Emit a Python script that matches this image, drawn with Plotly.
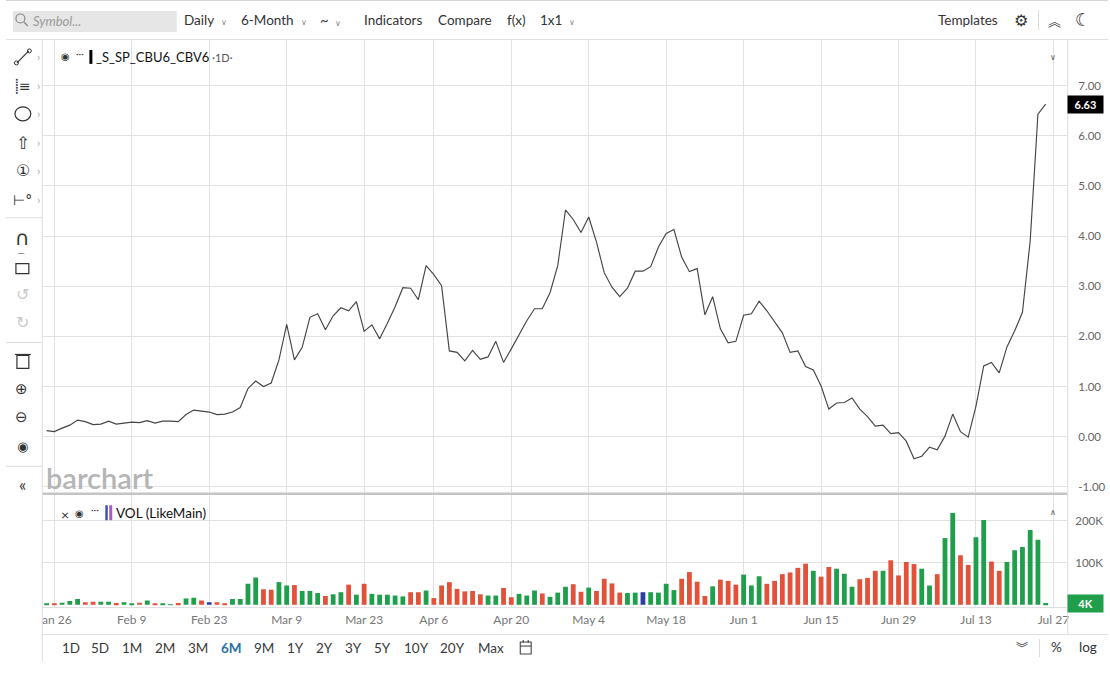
import pandas as pd
import plotly.graph_objects as go

W, H = 1110, 675

# spread close, one value per trading day (Jan 23 .. Jul 24 2026)
prices = [
    0.12, 0.10, 0.17, 0.23, 0.33, 0.30, 0.24, 0.25, 0.31, 0.25,
    0.27, 0.29, 0.28, 0.32, 0.27, 0.31, 0.31, 0.30, 0.44, 0.53,
    0.51, 0.49, 0.44, 0.45, 0.49, 0.58, 0.96, 1.11, 1.00, 1.07,
    1.53, 2.24, 1.53, 1.78, 2.38, 2.45, 2.13, 2.41, 2.57, 2.51,
    2.69, 2.10, 2.23, 1.95, 2.26, 2.59, 2.97, 2.96, 2.73, 3.41,
    3.23, 3.01, 1.71, 1.68, 1.51, 1.72, 1.54, 1.59, 1.90, 1.48,
    1.75, 2.03, 2.31, 2.55, 2.55, 2.87, 3.41, 4.52, 4.33, 4.07,
    4.38, 3.88, 3.27, 2.98, 2.79, 2.96, 3.30, 3.30, 3.39, 3.78,
    4.05, 4.13, 3.58, 3.29, 3.35, 2.43, 2.79, 2.15, 1.87, 1.90,
    2.42, 2.45, 2.70, 2.51, 2.28, 2.07, 1.68, 1.71, 1.40, 1.33,
    1.01, 0.55, 0.67, 0.68, 0.77, 0.55, 0.40, 0.21, 0.23, 0.06,
    0.08, -0.09, -0.44, -0.39, -0.21, -0.26, 0.01, 0.45, 0.10, -0.01,
    0.61, 1.41, 1.48, 1.27, 1.79, 2.11, 2.48, 3.90, 6.43, 6.63,
]

# volume in thousands
volume_k = [
    2, 2, 5, 9, 14, 6, 7, 7, 7, 4,
    6, 2, 5, 10, 3, 3, 1, 4, 15, 17,
    10, 6, 6, 2, 14, 14, 50, 65, 37, 36,
    54, 46, 47, 33, 33, 28, 21, 25, 30, 48,
    24, 50, 26, 24, 24, 22, 20, 30, 30, 34,
    16, 46, 54, 38, 32, 33, 25, 22, 22, 40,
    18, 26, 22, 34, 27, 19, 29, 43, 49, 31,
    41, 33, 62, 51, 29, 28, 29, 30, 30, 29,
    50, 35, 62, 78, 55, 21, 44, 60, 57, 48,
    72, 46, 68, 50, 57, 73, 77, 88, 98, 81,
    67, 90, 86, 74, 43, 61, 64, 81, 81, 106,
    70, 102, 97, 86, 46, 73, 159, 219, 118, 95,
    161, 202, 103, 81, 102, 130, 138, 178, 155, 4,
]

# G = up day, R = down day, B = unchanged
vol_dir = list(
    "GRGGGRRGGR" "GGRGRGGRGG" "RBRRGGGGRR" "GGRGGGRGGR" "GRGGGGGRRG"
    "RRRRRRRGGR" "RGGGRGGGRR" "GRRRRGGBGG" "GGRRRRGRRR" "GGGRRRRRRG"
    "RRGGGRRRGR" "RRRGGRGGRR" "GGRRGGGGGG"
)

dates = pd.bdate_range("2026-01-23", "2026-07-24", freq="C", holidays=["2026-04-03"])

tick_dates = ["2026-01-26", "2026-02-09", "2026-02-23", "2026-03-09", "2026-03-23",
              "2026-04-06", "2026-04-20", "2026-05-04", "2026-05-18", "2026-06-01",
              "2026-06-15", "2026-06-29", "2026-07-13", "2026-07-27"]
tick_text = ["Jan 26", "Feb 9", "Feb 23", "Mar 9", "Mar 23", "Apr 6", "Apr 20",
             "May 4", "May 18", "Jun 1", "Jun 15", "Jun 29", "Jul 13", "Jul 27"]

price_ticks = [-1, 0, 1, 2, 3, 4, 5, 6, 7]
price_tick_text = ["%.2f" % v for v in price_ticks]
vol_ticks = [100000, 200000]
vol_tick_text = ["100K", "200K"]

ranges = ["1D", "5D", "1M", "2M", "3M", "6M", "9M", "1Y", "2Y", "3Y", "5Y", "10Y", "20Y", "Max"]
range_x = [65, 95, 127, 160, 193, 227, 260, 292, 321, 350, 379, 413, 450, 489]

GREEN, RED, BLUE = "#1f9e4b", "#e2523a", "#2c3fa2"
FONT = "Lato, 'Open Sans', sans-serif"
GRID = "#e2e2e2"


def px_x(p):
    return p / W


def px_y(p):
    return 1 - p / H


shapes = []
annos = []


def line(x0, y0, x1, y1, color="#dcdcdc", width=1):
    shapes.append(dict(type="line", xref="paper", yref="paper", x0=px_x(x0), y0=px_y(y0),
                       x1=px_x(x1), y1=px_y(y1), line=dict(color=color, width=width), layer="above"))


def rect(x0, y0, x1, y1, fill=None, color=None, width=1):
    shapes.append(dict(type="rect", xref="paper", yref="paper", x0=px_x(x0), y0=px_y(y0),
                       x1=px_x(x1), y1=px_y(y1), fillcolor=fill or "rgba(0,0,0,0)",
                       line=dict(color=color or "rgba(0,0,0,0)", width=width), layer="above"))


def circle(x0, y0, x1, y1, color="#444", width=1.2, fill=None):
    shapes.append(dict(type="circle", xref="paper", yref="paper", x0=px_x(x0), y0=px_y(y0),
                       x1=px_x(x1), y1=px_y(y1), fillcolor=fill or "rgba(0,0,0,0)",
                       line=dict(color=color, width=width), layer="above"))


def txt(x, y, s, size=13, color="#333", anchor="center", family=FONT, **kw):
    annos.append(dict(x=px_x(x), y=px_y(y), xref="paper", yref="paper", text=s, showarrow=False,
                      xanchor=anchor, yanchor="middle", font=dict(size=size, color=color, family=family), **kw))


# white mask over the left toolbar so the first date label is clipped
rect(0, 40, 36.5, H, fill="white")

# frame lines
line(0, 0.5, W, 0.5, "#d6d6d6")
line(0, 39.5, W, 39.5, "#e0e0e0")
line(36.5, 40, 36.5, 662, "#dcdcdc")
line(37, 494.5, 1069, 494.5, "#c4c4c4", 2.5)
line(1069.5, 40, 1069.5, 635, "#dcdcdc")
line(37, 608.5, 1069, 608.5, "#dcdcdc")
line(37, 635.5, W, 635.5, "#e0e0e0")
line(1041, 640, 1041, 658, "#dcdcdc")
line(1040, 10, 1040, 30, "#dcdcdc")
for yy in [218, 343, 467]:
    line(0, yy, 36, yy, "#dcdcdc")

# top toolbar
rect(7, 11, 172, 32, fill="#e6e6e6")
circle(10, 14, 19, 23, "#8a8a8a", 1.2)
line(18, 22, 22, 26, "#8a8a8a", 1.4)
txt(25, 21, "<i>Symbol...</i>", 13, "#9a9a9a", "left")
chev = "<span style='font-size:8px;color:#888'>∨</span>"
txt(177, 20, "Daily  " + chev, 13.5, "#333", "left")
txt(235, 20, "6-Month  " + chev, 13.5, "#333", "left")
txt(314, 20, "<span style='font-size:15px'>~</span>  " + chev, 13, "#444", "left")
txt(359, 20, "Indicators", 13.5, "#333", "left")
txt(433, 20, "Compare", 13.5, "#333", "left")
txt(503, 20, "f(x)", 13.5, "#333", "left")
txt(536, 20, "1x1  " + chev, 13.5, "#333", "left")
txt(1001, 20, "Templates", 13.5, "#333", "right")
txt(1022, 21, "⚙", 16, "#333", family="DejaVu Sans")
txt(1056, 21, "︽", 13, "#333", family="Noto Sans CJK SC")
txt(1085, 20, "☾", 18, "#333", family="DejaVu Sans")

# left toolbar icons
ic = "#333"
line(11, 63, 23, 51, ic, 1.2)
circle(8.5, 61, 12.5, 65, ic, 1)
circle(21.5, 49, 25.5, 53, ic, 1)
txt(17, 86, "⸽≡", 14, ic, family="DejaVu Sans")
circle(9, 107, 25, 121, ic, 1.2)
txt(17, 143, "⇧", 17, ic, family="DejaVu Sans")
txt(17, 171, "①", 16, ic, family="DejaVu Sans")
txt(17, 200, "⊢°", 14, ic, family="DejaVu Sans")
for yy in [57, 86, 114, 143, 171, 200]:
    txt(33, yy, "›", 12, "#aaa")
txt(17, 238, "∩", 20, ic, family="DejaVu Sans")
rect(10, 264, 23, 274, color=ic, width=1.2)
txt(15, 258, "⌒", 10, ic, family="DejaVu Sans")
txt(17, 295, "↺", 16, "#c8c8c8", family="DejaVu Sans")
txt(17, 323, "↻", 16, "#c8c8c8", family="DejaVu Sans")
rect(11, 356, 23, 369, color=ic, width=1.2)
line(9, 355, 25, 355, ic, 1.2)
txt(16, 390, "⊕", 15, ic, family="DejaVu Sans")
txt(16, 418, "⊖", 15, ic, family="DejaVu Sans")
txt(17, 447, "◉", 13, ic, family="DejaVu Sans")
txt(17, 485, "«", 17, ic)

# pane legends
txt(60, 57, "◉", 10, "#333", family="DejaVu Sans")
txt(75, 53, "···", 10, "#333")
rect(84, 50, 87, 64, fill="#000")
txt(89, 57, "_S_SP_CBU6_CBV6<span style='font-size:11px;color:#555'> ·1D·</span>", 13, "#111", "left")
txt(1055, 57, "∨", 8, "#555")
txt(59, 515, "×", 14, "#333")
txt(74, 514, "◉", 10, "#333", family="DejaVu Sans")
txt(90, 510, "···", 10, "#333")
rect(100, 506, 102.5, 521, fill="#3d4fb0")
rect(104, 506, 107, 521, fill="#a95bc2")
txt(109, 514, "VOL (LikeMain)", 13.5, "#111", "left")
txt(1055, 513, "∧", 8, "#555")

# watermark
annos.append(dict(x=px_x(38), y=px_y(478), xref="paper", yref="paper", text="barchart", showarrow=False,
                  xanchor="left", yanchor="middle",
                  font=dict(size=29, color="#b5b5b5", family=FONT, weight=600)))

# bottom range bar
for label, xx in zip(ranges, range_x):
    if label == "6M":
        txt(xx, 649, "<b>6M</b>", 13.5, "#2a6fa8")
    else:
        txt(xx, 649, label, 13.5, "#3a3a3a")
rect(518, 643, 529, 655, color="#444", width=1.1)
line(518, 647, 529, 647, "#444", 1.1)
line(521, 641, 521, 644, "#444", 1.1)
line(526, 641, 526, 644, "#444", 1.1)
txt(1023, 648, "︾", 12, "#333", family="Noto Sans CJK SC")
txt(1058, 648, "%", 13.5, "#333")
txt(1090, 648, "log", 13.5, "#333")

# last value tags, tied to the data axes
annos.append(dict(x=px_x(1068.5), xref="paper", y=prices[-1], yref="y", text="<b>%.2f</b>" % prices[-1],
                  showarrow=False, xanchor="left", yanchor="middle", bgcolor="#000", borderpad=2,
                  width=31, font=dict(size=11, color="white", family=FONT)))
annos.append(dict(x=px_x(1068.5), xref="paper", y=volume_k[-1] * 1000, yref="y2",
                  text="<b>%dK</b>" % volume_k[-1], showarrow=False, xanchor="left", yanchor="middle",
                  bgcolor=GREEN, borderpad=2, width=31, font=dict(size=11, color="white", family=FONT)))

bar_colors = [{"G": GREEN, "R": RED, "B": BLUE}[c] for c in vol_dir]

fig = go.Figure()
fig.add_trace(go.Scatter(x=dates, y=prices, mode="lines", line=dict(color="#454545", width=1.15),
                         xaxis="x", yaxis="y", hoverinfo="skip"))
fig.add_trace(go.Bar(x=dates, y=[v * 1000 for v in volume_k], marker=dict(color=bar_colors, line_width=0),
                     width=0.62 * 86400000, xaxis="x2", yaxis="y2", hoverinfo="skip"))

x_range = ["2026-01-22 12:00", "2026-07-28 19:00"]
breaks = [dict(bounds=["sat", "mon"]), dict(values=["2026-04-03"])]
xcommon = dict(type="date", range=x_range, rangebreaks=breaks, domain=[px_x(37), px_x(1069)],
               tickvals=tick_dates, ticktext=tick_text, showgrid=True, gridcolor=GRID, gridwidth=1,
               zeroline=False, showline=False, ticks="")

fig.update_layout(
    width=W, height=H, autosize=False,
    margin=dict(l=0, r=0, t=0, b=0),
    paper_bgcolor="white", plot_bgcolor="white",
    showlegend=False, hovermode=False,
    font=dict(family=FONT, color="#666"),
    xaxis=dict(xcommon, anchor="y", showticklabels=False),
    xaxis2=dict(xcommon, anchor="y2", matches="x", showticklabels=True,
                tickfont=dict(size=12, color="#777"), ticklabelstandoff=4),
    yaxis=dict(domain=[px_y(493), px_y(40)], range=[-1.109, 7.91], side="right",
               tickvals=price_ticks, ticktext=price_tick_text, showgrid=True, gridcolor=GRID,
               zeroline=False, showline=False, ticks="", ticklabelstandoff=10,
               tickfont=dict(size=11.5, color="#666")),
    yaxis2=dict(domain=[px_y(608), px_y(496)], range=[-5500, 261000], side="right",
                tickvals=vol_ticks, ticktext=vol_tick_text, showgrid=True, gridcolor=GRID,
                zeroline=False, showline=False, ticks="", ticklabelstandoff=7,
                tickfont=dict(size=11.5, color="#666")),
    shapes=shapes,
    annotations=annos,
)

fig.write_html("out.html", config={"displayModeBar": False},
               post_script="document.body.style.margin='0';")
